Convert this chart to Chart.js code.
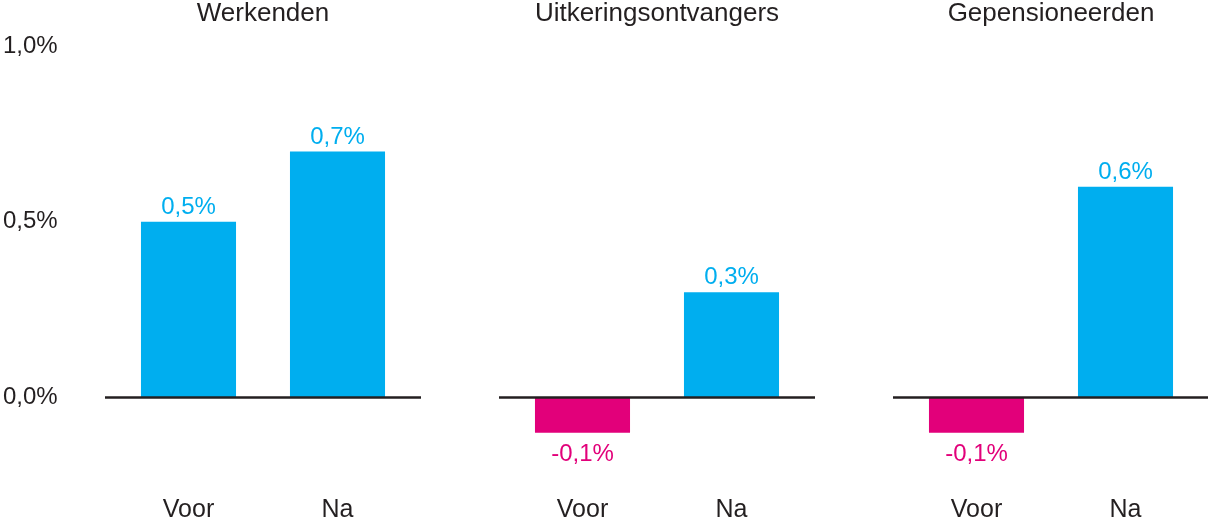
<!DOCTYPE html>
<html>
<head>
<meta charset="utf-8">
<script src="https://cdn.jsdelivr.net/npm/chart.js@4/dist/chart.umd.min.js"></script>
<style>
  html, body { margin: 0; padding: 0; background: #fff; }
  #wrap { position: relative; width: 1208px; height: 524px; overflow: hidden; }
  .panel { position: absolute; top: 0; height: 524px; }
</style>
</head>
<body>
<div id="wrap">
  <div class="panel" style="left:0;width:430px"><canvas id="c0"></canvas></div>
  <div class="panel" style="left:480px;width:340px"><canvas id="c1"></canvas></div>
  <div class="panel" style="left:880px;width:328px"><canvas id="c2"></canvas></div>
</div>
<script>
// Data
let groups = ['Werkenden', 'Uitkeringsontvangers', 'Gepensioneerden'];
let moments = ['Voor', 'Na'];
let voor = [0.5, -0.1, -0.1];
let na = [0.7, 0.3, 0.6];
let tickValues = [0, 0.5, 1.0];

let blue = '#00aeef';
let pink = '#e2007a';
let ink = '#231f20';
let fontFamily = '"Liberation Sans", Arial, sans-serif';

function pct(v) {
    return v.toFixed(1).replace('.', ',') + '%';
}

// value labels above / below the bars + the zero line
let barLabels = {
    id: 'barLabels',
    afterDatasetsDraw(chart) {
        let ctx = chart.ctx;
        let area = chart.chartArea;
        let y0 = chart.scales.y.getPixelForValue(0);
        ctx.save();
        ctx.strokeStyle = ink;
        ctx.lineWidth = 2.5;
        ctx.beginPath();
        ctx.moveTo(area.left - 9, y0);
        ctx.lineTo(area.right + 9, y0);
        ctx.stroke();

        let ds = chart.data.datasets[0];
        chart.getDatasetMeta(0).data.forEach((bar, i) => {
            let v = ds.data[i];
            ctx.font = '24px ' + fontFamily;
            ctx.textAlign = 'center';
            ctx.textBaseline = 'alphabetic';
            ctx.fillStyle = v < 0 ? pink : blue;
            let y = v < 0 ? bar.y + 28 : bar.y - 8;
            ctx.fillText(pct(v), bar.x, y);
        });
        ctx.restore();
    }
};

let pads = [
    { left: 3, right: 18 },
    { left: 28, right: 14 },
    { left: 22, right: 8 }
];

groups.forEach((name, g) => {
    let values = [voor[g], na[g]];
    new Chart(document.getElementById('c' + g).getContext('2d'), {
        type: 'bar',
        data: {
            labels: moments,
            datasets: [{
                data: values,
                backgroundColor: values.map(v => v < 0 ? pink : blue),
                borderWidth: 0,
                categoryPercentage: 1,
                barPercentage: 0.638
            }]
        },
        options: {
            responsive: true,
            maintainAspectRatio: false,
            animation: false,
            layout: { padding: { left: pads[g].left, right: pads[g].right, top: 0, bottom: 0 } },
            plugins: {
                legend: { display: false },
                tooltip: { enabled: false },
                title: {
                    display: true,
                    fullSize: false,
                    text: name,
                    color: ink,
                    font: { family: fontFamily, size: 26, weight: 'normal', lineHeight: 1.1 },
                    padding: { top: 0, bottom: 17.5 }
                }
            },
            scales: {
                x: {
                    grid: { display: false, drawTicks: false },
                    border: { display: false },
                    ticks: {
                        color: ink,
                        padding: 1.5,
                        font: { family: fontFamily, size: 25, lineHeight: 1 }
                    }
                },
                y: {
                    display: g === 0,
                    min: -0.28,
                    max: 1.0,
                    grid: { display: false, drawTicks: false },
                    border: { display: false },
                    afterBuildTicks: scale => {
                        scale.ticks = tickValues.map(v => ({ value: v }));
                    },
                    afterFit: scale => {
                        scale.width = g === 0 ? 111 : 0;
                    },
                    ticks: {
                        color: ink,
                        padding: 0,
                        crossAlign: 'far',
                        font: { family: fontFamily, size: 24 },
                        callback: v => pct(v)
                    }
                }
            }
        },
        plugins: [barLabels]
    });
});
</script>
</body>
</html>
